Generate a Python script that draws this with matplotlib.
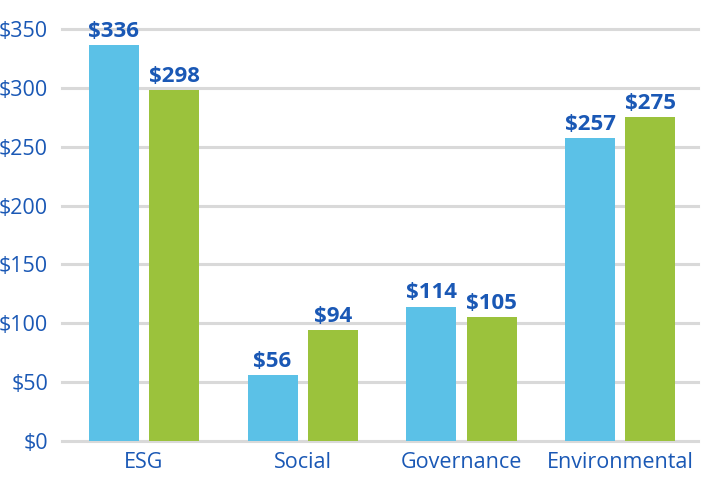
import matplotlib
matplotlib.use("Agg")
import matplotlib.pyplot as plt
import numpy as np

categories = ["ESG", "Social", "Governance", "Environmental"]
series_a = [336, 56, 114, 257]
series_b = [298, 94, 105, 275]
yticks = [0, 50, 100, 150, 200, 250, 300, 350]
ytick_labels = ["$0", "$50", "$100", "$150", "$200", "$250", "$300", "$350"]

BLUE = "#5BC1E7"
GREEN = "#9BC23C"
TEXT = "#1A58B5"
GRID = "#D9D9D9"

plt.rcParams['font.family'] = ['Open Sans', 'DejaVu Sans']

fig = plt.figure(figsize=(7.14, 5.04), dpi=100)
ax = fig.add_axes([62/714, 1-441/504, (698-62)/714, (441-29)/504])

x = np.arange(len(categories))
w = 0.315
off = 0.19
ax.bar(x - off, series_a, width=w, color=BLUE, zorder=3)
ax.bar(x + off, series_b, width=w, color=GREEN, zorder=3)

for xi, v in zip(x - off, series_a):
    ax.text(xi, v + 3, f"${v}", ha="center", va="bottom", color=TEXT,
            fontsize=16, fontweight="bold")
for xi, v in zip(x + off, series_b):
    ax.text(xi, v + 3, f"${v}", ha="center", va="bottom", color=TEXT,
            fontsize=16, fontweight="bold")

ax.set_xlim(-0.516, 3.49)
ax.set_ylim(0, 350)
ax.set_yticks(yticks)
ax.set_yticklabels(ytick_labels)
ax.set_xticks(x)
ax.set_xticklabels(categories)
ax.tick_params(axis="both", length=0, colors=TEXT, labelsize=15.5)
ax.tick_params(axis="y", pad=10)
ax.tick_params(axis="x", pad=8)
ax.grid(axis="y", color=GRID, linewidth=2.2, zorder=0)
ax.set_axisbelow(True)
for s in ax.spines.values():
    s.set_visible(False)
for gl in ax.get_ygridlines():
    gl.set_clip_on(False)

fig.savefig("out.png", dpi=100)
